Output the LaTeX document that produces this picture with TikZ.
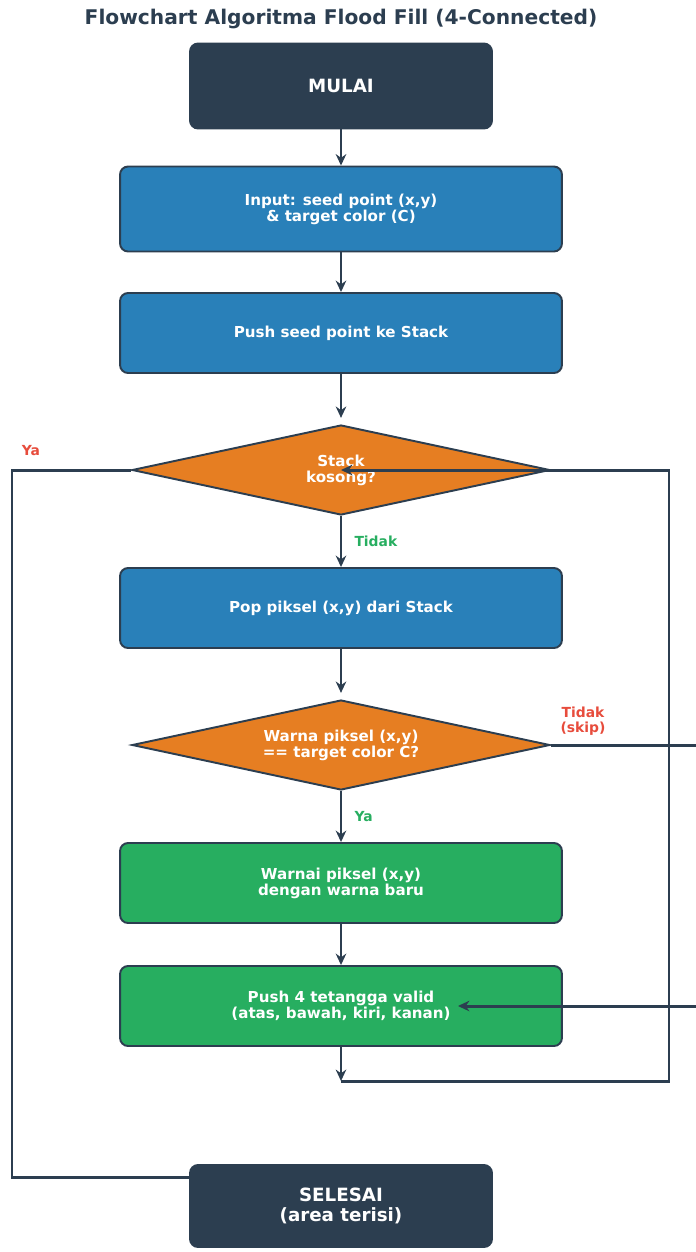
\documentclass[tikz,border=0pt]{standalone}
\usepackage{fontspec}
\setmainfont{DejaVu Sans}
\usetikzlibrary{shapes.geometric,arrows.meta}
\definecolor{gelap}{HTML}{2C3E50}
\definecolor{biru}{HTML}{2980B9}
\definecolor{oranye}{HTML}{E67E22}
\definecolor{hijau}{HTML}{27AE60}
\definecolor{merah}{HTML}{E74C3C}
\begin{document}
\begin{tikzpicture}[x=0.02cm,y=-0.02cm,
    kotak/.style={draw=gelap,line width=1.1pt,rounded corners=0.16cm,text=white,
      font=\bfseries\fontsize{8.6}{9}\selectfont,align=center,
      minimum width=8.84cm,minimum height=1.6cm},
    ujung/.style={kotak,fill=gelap,minimum width=6.04cm,minimum height=1.7cm,
      font=\bfseries\fontsize{10.4}{11}\selectfont},
    proses/.style={kotak,fill=biru},
    aksi/.style={kotak,fill=hijau},
    keputusan/.style={diamond,draw=gelap,line width=1.1pt,fill=oranye,text=white,
      font=\bfseries\fontsize{8.6}{9}\selectfont,align=center,aspect=4.6,
      inner sep=0pt,minimum width=8.36cm,minimum height=1.8cm},
    alur/.style={-{Stealth[length=6.5pt,width=6pt]},draw=gelap,line width=1.7pt},
    garis/.style={draw=gelap,line width=1.7pt},
    label/.style={font=\bfseries\fontsize{7.9}{8.6}\selectfont,align=center}]
        \clip (0,0) rectangle (696,1252);
        % Judul
        \node[text=gelap,font=\bfseries\fontsize{11.5}{13}\selectfont] (judul) at (341,19) {Flowchart Algoritma Flood Fill (4-Connected)};
        % Langkah-langkah
        \node[ujung] (mulai) at (341,86) {MULAI};
        \node[proses,minimum height=1.7cm] (input) at (341,209) {Input: seed point (x,y)\\\& target color (C)};
        \node[proses] (pushseed) at (341,333) {Push seed point ke Stack};
        \node[keputusan] (cekstack) at (341,470) {Stack\\kosong?};
        \node[proses] (pop) at (341,608) {Pop piksel (x,y) dari Stack};
        \node[keputusan] (cekwarna) at (341,745) {Warna piksel (x,y)\\== target color C?};
        \node[aksi] (warnai) at (341,883) {Warnai piksel (x,y)\\dengan warna baru};
        \node[aksi] (pushtetangga) at (341,1006) {Push 4 tetangga valid\\(atas, bawah, kiri, kanan)};
        \node[ujung,minimum height=1.64cm] (selesai) at (341,1206) {SELESAI\\(area terisi)};
        % Titik bantu
        \coordinate (ulang) at (341,1081);
        \coordinate (kanan) at (669,1081);
        \coordinate (kiri) at (12,1177);
        \coordinate (skip) at (700,745);
        \coordinate (masuk) at (700,1006);
        % Alur utama
        \draw[alur] (mulai) -- (input);
        \draw[alur] (input) -- (pushseed);
        \draw[alur,shorten >=3.5pt] (pushseed) -- (cekstack);
        \draw[alur] (cekstack) -- (pop) node[label,midway,right,xshift=3.5pt,text=hijau] {Tidak};
        \draw[alur,shorten >=3.5pt] (pop) -- (cekwarna);
        \draw[alur] (cekwarna) -- (warnai) node[label,midway,right,xshift=3.5pt,text=hijau] {Ya};
        \draw[alur] (warnai) -- (pushtetangga);
        \draw[alur] (pushtetangga) -- (ulang);
        % Kembali ke cek stack
        \draw[alur] (ulang) -- (kanan) |- (cekstack.center);
        % Stack kosong: selesai
        \draw[garis] (cekstack.west) -| (kiri) -- (selesai.west |- kiri);
        \node[label,text=merah] (ya) at (31,451) {Ya};
        % Warna beda: skip
        \draw[garis] (cekwarna.east) -- (skip);
        \node[label,text=merah] (tidakskip) at (583,721) {Tidak\\(skip)};
        \draw[alur] (masuk) -- ([xshift=2.34cm]pushtetangga.center);
    \end{tikzpicture}
\end{document}
